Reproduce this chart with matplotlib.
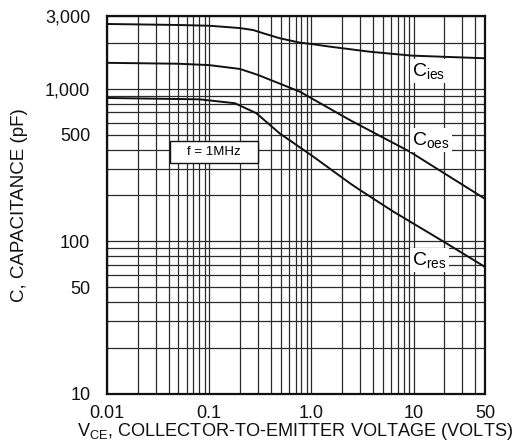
import matplotlib

matplotlib.use("Agg")
import matplotlib.pyplot as plt
from matplotlib.patches import Rectangle
from matplotlib.ticker import FixedLocator, NullFormatter

plt.rcParams["font.family"] = ["Liberation Sans", "DejaVu Sans"]
plt.rcParams["mathtext.fontset"] = "custom"
plt.rcParams["mathtext.rm"] = "Liberation Sans"
plt.rcParams["mathtext.it"] = "Liberation Sans"

# capacitance vs collector-emitter voltage
cies_v = [0.01, 0.05, 0.1, 0.16, 0.2, 0.27, 0.34, 0.49, 0.77, 1.0, 1.52, 3.74, 9.6, 50]
cies_c = [2660, 2620, 2590, 2530, 2500, 2427, 2310, 2145, 2007, 1966, 1889, 1750, 1650, 1585]

coes_v = [0.01, 0.05, 0.1, 0.2, 0.3, 0.77, 2.39, 9.2, 50]
coes_c = [1480, 1460, 1430, 1349, 1233, 958, 623, 387, 190]

cres_v = [0.01, 0.081, 0.179, 0.29, 0.49, 1.04, 2.39, 2.99, 6.32, 19.5, 50]
cres_c = [871, 853, 804, 691, 510, 360, 240, 217, 157, 100, 68]

x_major = [0.01, 0.1, 1.0, 10, 50]
x_labels = ["0.01", "0.1", "1.0", "10", "50"]
y_major = [10, 50, 100, 500, 1000, 3000]
y_labels = ["10", "50", "100", "500", "1,000", "3,000"]

x_minor = [m * d for d in (0.01, 0.1, 1, 10) for m in range(2, 10) if m * d < 50]
y_minor = [m * d for d in (10, 100, 1000) for m in range(1, 10) if m * d <= 3000]
y_minor = [v for v in y_minor if v not in y_major]

fig = plt.figure(figsize=(5.24, 4.41), dpi=100)
ax = fig.add_axes([0.2042, 0.1066, 0.7214, 0.8571])
ax.set_xscale("log")
ax.set_yscale("log")
ax.set_xlim(0.01, 50)
ax.set_ylim(10, 3000)

ax.xaxis.set_major_locator(FixedLocator(x_major))
ax.xaxis.set_minor_locator(FixedLocator(x_minor))
ax.yaxis.set_major_locator(FixedLocator(y_major))
ax.yaxis.set_minor_locator(FixedLocator(y_minor))
ax.set_xticklabels(x_labels)
ax.set_yticklabels(y_labels)
ax.xaxis.set_minor_formatter(NullFormatter())
ax.yaxis.set_minor_formatter(NullFormatter())
ax.tick_params(which="both", length=0, labelsize=13, colors="#111111")
ax.tick_params(axis="x", pad=8)
ax.tick_params(axis="y", pad=12)

ax.grid(True, which="both", color="#2a2a2a", linewidth=0.9)
ax.set_axisbelow(True)
for s in ax.spines.values():
    s.set_linewidth(1.6)
    s.set_color("#111111")

for v, c in ((cies_v, cies_c), (coes_v, coes_c), (cres_v, cres_c)):
    ax.plot(v, c, color="#111111", linewidth=1.4, zorder=3)

box = dict(facecolor="white", edgecolor="none", pad=1.5)
for label, ypos in (("ies", 0.854), ("oes", 0.672), ("res", 0.354)):
    ax.text(0.808, ypos, r"C$_{\rm %s}$" % label, transform=ax.transAxes,
            fontsize=14, va="center", ha="left", bbox=box, zorder=4)

ax.add_patch(Rectangle((0.1667, 0.611), 0.2328, 0.058, transform=ax.transAxes,
                       facecolor="white", edgecolor="#111111", linewidth=1.0,
                       zorder=4))
ax.text(0.283, 0.640, "f = 1MHz", transform=ax.transAxes, fontsize=9.5,
        va="center", ha="center", zorder=5)

ax.set_xlabel(r"V$_{\rm CE}$, COLLECTOR-TO-EMITTER VOLTAGE (VOLTS)", fontsize=13.1,
              labelpad=-1, color="#111111")
ax.xaxis.set_label_coords(0.497, -0.072)
ax.set_ylabel("C, CAPACITANCE (pF)", fontsize=13.5, labelpad=12, color="#111111")

fig.savefig("out.png", dpi=100)
